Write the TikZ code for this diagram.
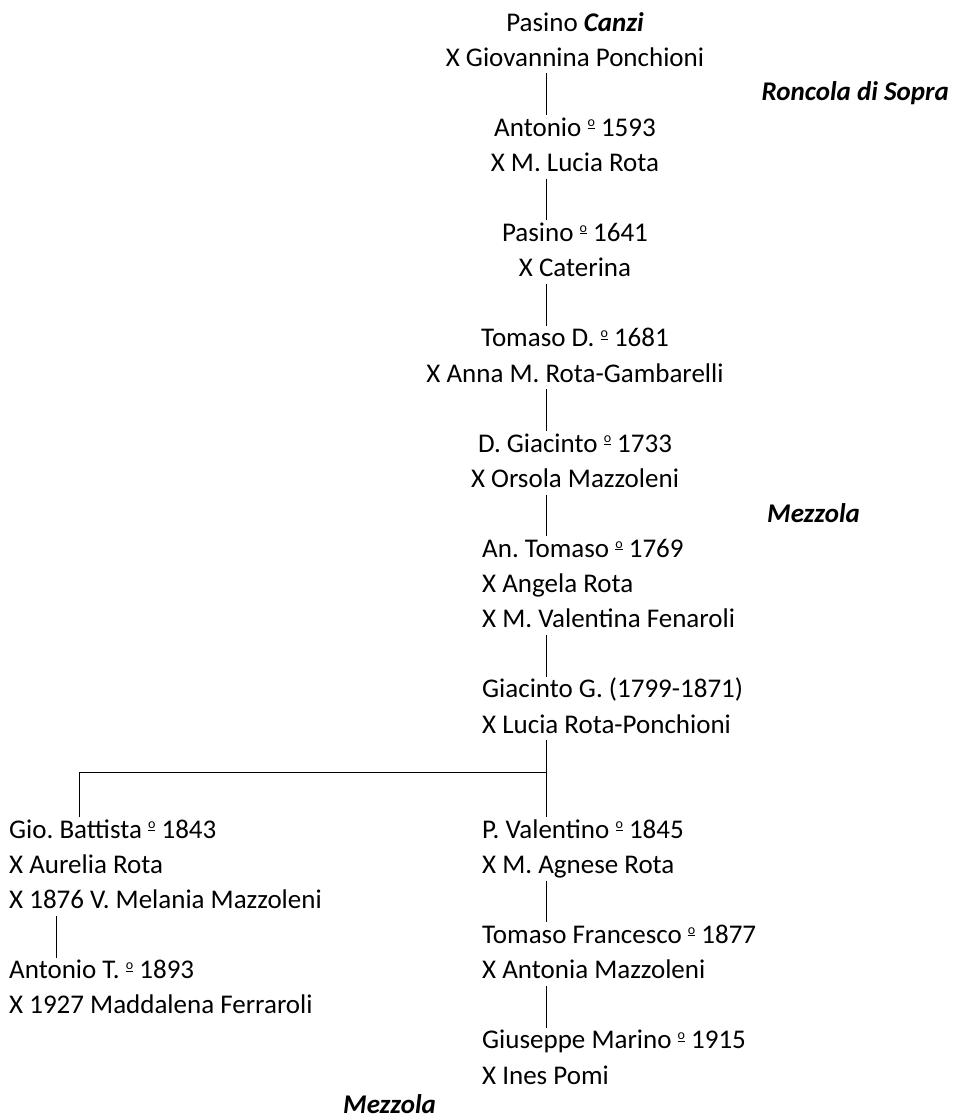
\documentclass[tikz,border=0pt]{standalone}
\usepackage{fontspec}
\setmainfont{Carlito}
\frenchspacing
\newcommand\myordm{\raisebox{9.5pt}{\fontsize{14}{14}\selectfont\underline{o}}}
\tikzset{
  txt/.style={inner sep=0pt, text height=21pt, text depth=7pt, font=\fontsize{27}{35}\selectfont},
  ctr/.style={txt, anchor=base},
  lft/.style={txt, anchor=base west},
  place/.style={txt, anchor=base west, font=\fontsize{27}{35}\selectfont\bfseries\itshape},
  conn/.style={draw=black, line width=1pt}
}
\begin{document}
\begin{tikzpicture}[x=1pt,y=-1pt]
\useasboundingbox (0,0) rectangle (953,1120);
% columns for connectors
\coordinate (colM) at (546,0);
\coordinate (colL) at (79,0);
\coordinate (colLL) at (56,0);
\coordinate (split) at (546,772);
% central column, centred
\node[ctr] (a0) at (575,31) {Pasino \textbf{\textit{Canzi}}};
\node[ctr] (a1) at (575,66.1) {X Giovannina Ponchioni};
\node[ctr] (b0) at (575,136.3) {Antonio \myordm{} 1593};
\node[ctr] (b1) at (575,171.4) {X M. Lucia Rota};
\node[ctr] (c0) at (575,241.6) {Pasino \myordm{} 1641};
\node[ctr] (c1) at (575,276.7) {X Caterina};
\node[ctr] (d0) at (575,346.9) {Tomaso D. \myordm{} 1681};
\node[ctr] (d1) at (575,382) {X Anna M. Rota-Gambarelli};
\node[ctr] (e0) at (575,452.2) {D. Giacinto \myordm{} 1733};
\node[ctr] (e1) at (575,487.3) {X Orsola Mazzoleni};
% central column, left aligned
\node[lft] (f0) at (482,557.5) {An. Tomaso \myordm{} 1769};
\node[lft] (f1) at (482,592.6) {X Angela Rota};
\node[lft] (f2) at (482,627.7) {X M. Valentina Fenaroli};
\node[lft] (g0) at (482,697.9) {Giacinto G. (1799-1871)};
\node[lft] (g1) at (482,733) {X Lucia Rota-Ponchioni};
\node[lft] (h0) at (482,838.3) {P. Valentino \myordm{} 1845};
\node[lft] (h1) at (482,873.4) {X M. Agnese Rota};
\node[lft] (i0) at (482,943.6) {Tomaso Francesco \myordm{} 1877};
\node[lft] (i1) at (482,978.7) {X Antonia Mazzoleni};
\node[lft] (j0) at (482,1048.9) {Giuseppe Marino \myordm{} 1915};
\node[lft] (j1) at (482,1084) {X Ines Pomi};
% left branch
\node[lft] (k0) at (9,838.3) {Gio. Battista \myordm{} 1843};
\node[lft] (k1) at (9,873.4) {X Aurelia Rota};
\node[lft] (k2) at (9,908.5) {X 1876 V. Melania Mazzoleni};
\node[lft] (m0) at (9,978.7) {Antonio T. \myordm{} 1893};
\node[lft] (m1) at (9,1013.8) {X 1927 Maddalena Ferraroli};
% places
\node[place, anchor=base east] (p1) at (949,100) {Roncola di Sopra};
\node[place] (p2) at (767,522.4) {Mezzola};
\node[place, text depth=1pt] (p3) at (343,1113.5) {Mezzola};
% connectors
\draw[conn] (a1.south -| colM) -- (b0.north -| colM);
\draw[conn] (b1.south -| colM) -- (c0.north -| colM);
\draw[conn] (c1.south -| colM) -- (d0.north -| colM);
\draw[conn] (d1.south -| colM) -- (e0.north -| colM);
\draw[conn] (e1.south -| colM) -- (f0.north -| colM);
\draw[conn] (f2.south -| colM) -- (g0.north -| colM);
\draw[conn] (g1.south -| colM) -- (h0.north -| colM);
\draw[conn] (split) -| (k0.north -| colL);
\draw[conn] (h1.south -| colM) -- (i0.north -| colM);
\draw[conn] (i1.south -| colM) -- (j0.north -| colM);
\draw[conn] (k2.south -| colLL) -- (m0.north -| colLL);
\end{tikzpicture}
\end{document}
